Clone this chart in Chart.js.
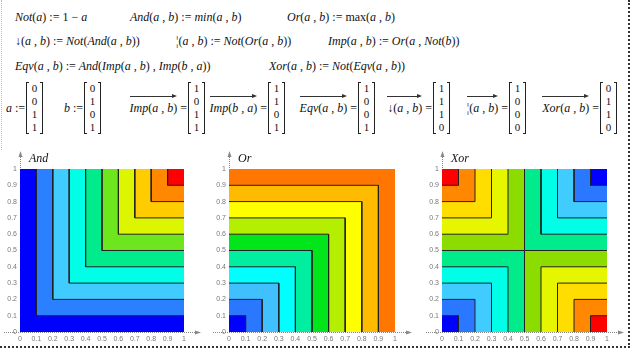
<!DOCTYPE html>
<html>
<head>
<meta charset="utf-8">
<script src="https://cdn.jsdelivr.net/npm/chart.js@4"></script>
<style>
  body { margin: 0; width: 633px; height: 352px; position: relative; background: #fff; overflow: hidden; }
  .frame { position: absolute; left: 0; top: 0; width: 628px; height: 346px; border-right: 2px dotted #333; border-bottom: 2px dotted #333; }
  .edge { position: absolute; left: 1px; top: 0; height: 150px; border-left: 1px dotted #bbb; }
  .f { position: absolute; font: 12px "Liberation Serif", serif; color: #111; white-space: nowrap; line-height: 14px; }
  .lbl { position: absolute; top: 101px; font: 12px "Liberation Serif", serif; color: #111; white-space: nowrap; line-height: 14px; }
  .vec { position: relative; display: inline-block; }
  .vec::before { content: ''; position: absolute; left: 0; right: 2px; top: -5px; border-top: 1px solid #333; }
  .vec::after { content: ''; position: absolute; right: 0; top: -7px; border-left: 5px solid #333; border-top: 2.5px solid transparent; border-bottom: 2.5px solid transparent; }
  .mat { position: absolute; top: 82px; height: 52px; width: 17px; font: 11px "Liberation Serif", serif; color: #111; text-align: center; }
  .mat span { display: block; height: 13px; line-height: 13px; }
  .mat::before, .mat::after { content: ''; position: absolute; top: 0; bottom: 0; width: 2px; border: 1px solid #222; }
  .mat::before { left: 0; border-right: none; }
  .mat::after { right: 0; border-left: none; }
  .c { position: absolute; top: 145px; height: 205px; }
</style>
</head>
<body>
<div class="frame"></div>
<div class="edge"></div>

<div class="f" style="left:15px;top:10px"><i>Not</i>(<i>a</i>) := 1 − <i>a</i></div>
<div class="f" style="left:130px;top:10px"><i>And</i>(<i>a</i> , <i>b</i>) := <i>min</i>(<i>a</i> , <i>b</i>)</div>
<div class="f" style="left:287px;top:10px"><i>Or</i>(<i>a</i> , <i>b</i>) := max(<i>a</i> , <i>b</i>)</div>

<div class="f" style="left:15px;top:34px">↓(<i>a</i> , <i>b</i>) := <i>Not</i>(<i>And</i>(<i>a</i> , <i>b</i>))</div>
<div class="f" style="left:176px;top:34px">¦(<i>a</i> , <i>b</i>) := <i>Not</i>(<i>Or</i>(<i>a</i> , <i>b</i>))</div>
<div class="f" style="left:328px;top:34px"><i>Imp</i>(<i>a</i> , <i>b</i>) := <i>Or</i>(<i>a</i> , <i>Not</i>(<i>b</i>))</div>

<div class="f" style="left:15px;top:59px"><i>Eqv</i>(<i>a</i> , <i>b</i>) := <i>And</i>(<i>Imp</i>(<i>a</i> , <i>b</i>) , <i>Imp</i>(<i>b</i> , <i>a</i>))</div>
<div class="f" style="left:269px;top:59px"><i>Xor</i>(<i>a</i> , <i>b</i>) := <i>Not</i>(<i>Eqv</i>(<i>a</i> , <i>b</i>))</div>

<div id="vectors"></div>

<div class="c" style="left:0;width:215px"><canvas id="c1"></canvas></div>
<div class="c" style="left:210px;width:215px"><canvas id="c2"></canvas></div>
<div class="c" style="left:422px;width:208px"><canvas id="c3"></canvas></div>

<script>
// truth tables shown in the vector row
const a = [0, 0, 1, 1];
const b = [0, 1, 0, 1];
const impAB = [1, 0, 1, 1];
const impBA = [1, 1, 0, 1];
const eqvAB = [1, 0, 0, 1];
const nandAB = [1, 1, 1, 0];
const norAB = [1, 0, 0, 0];
const xorAB = [0, 1, 1, 0];

// contour plots
const tickLabels = ['0', '0.1', '0.2', '0.3', '0.4', '0.5', '0.6', '0.7', '0.8', '0.9', '1'];
const levels = [0.1, 0.2, 0.3, 0.4, 0.5, 0.6, 0.7, 0.8, 0.9];
const andColors = ['#0000ff', '#2a80ff', '#40ccff', '#00ffe6', '#00ec8c', '#6ee61e', '#dcf500', '#ffcc00', '#ff8800', '#ff0000'];
const orColors = ['#0000ff', '#2a78ff', '#40c0ff', '#00ffff', '#00eea0', '#00e61a', '#b4ee00', '#ffff00', '#ffbb00', '#ff7700'];
const xorColors = ['#0000ff', '#2a78ff', '#40ccff', '#00ffe6', '#00ec8c', '#8cdc00', '#e6f500', '#ffdd00', '#ff8800', '#ff0000'];

// vector row
const mat = (vals, x) => `<div class="mat" style="left:${x}px">${vals.map(v => `<span>${v}</span>`).join('')}</div>`;
const lbl = (html, x) => `<div class="lbl" style="right:${633 - x + 1}px">${html}</div>`;
const ab = '(<i>a</i> , <i>b</i>)';
const ba = '(<i>b</i> , <i>a</i>)';
document.getElementById('vectors').innerHTML =
  lbl('<i>a</i> :=', 26) + mat(a, 26) +
  lbl('<i>b</i> :=', 84) + mat(b, 84) +
  lbl(`<span class="vec"><i>Imp</i>${ab}</span> =`, 188) + mat(impAB, 188) +
  lbl(`<span class="vec"><i>Imp</i>${ba}</span> =`, 268) + mat(impBA, 268) +
  lbl(`<span class="vec"><i>Eqv</i>${ab}</span> =`, 358) + mat(eqvAB, 358) +
  lbl(`<span class="vec">↓${ab}</span> =`, 433) + mat(nandAB, 433) +
  lbl(`<span class="vec">¦${ab}</span> =`, 509) + mat(norAB, 509) +
  lbl(`<span class="vec"><i>Xor</i>${ab}</span> =`, 600) + mat(xorAB, 600);

// a filled rectangle = top edge line filled down to y0
const rect = (x0, x1, y0, y1, color, order) => ({
  data: [{x: x0, y: y1}, {x: x1, y: y1}],
  fill: {value: y0},
  backgroundColor: color,
  borderWidth: 0,
  pointRadius: 0,
  order: order
});
const contour = (pts) => ({
  data: pts.map(p => ({x: p[0], y: p[1]})),
  fill: false,
  borderColor: '#222',
  borderWidth: 1,
  borderJoinStyle: 'round',
  pointRadius: 0,
  order: 0
});

// And(a,b) = min(a,b): region above level c is the square [c,1]x[c,1]
function andSets() {
  const ds = [rect(0, 1, 0, 1, andColors[0], 100)];
  levels.forEach((c, i) => {
    ds.push(rect(c, 1, c, 1, andColors[i + 1], 99 - i));
    ds.push(contour([[c, 1], [c, c], [1, c]]));
  });
  return ds;
}
// Or(a,b) = max(a,b): region below level c is the square [0,c]x[0,c]
function orSets() {
  const ds = [rect(0, 1, 0, 1, orColors[orColors.length - 1], 100)];
  levels.slice().reverse().forEach((c, i) => {
    const k = levels.indexOf(c);
    ds.push(rect(0, c, 0, c, orColors[k], 99 - i));
    ds.push(contour([[0, c], [c, c], [c, 0]]));
  });
  return ds;
}
// Xor(a,b) = max(min(a,1-b), min(b,1-a)): union of two squares above level c
function xorSets() {
  const ds = [rect(0, 1, 0, 1, xorColors[0], 100)];
  levels.forEach((c, i) => {
    ds.push(rect(c, 1, 0, 1 - c, xorColors[i + 1], 99 - i));
    ds.push(rect(0, 1 - c, c, 1, xorColors[i + 1], 99 - i));
    if (c < 0.5) {
      ds.push(contour([[c, 0], [c, c], [0, c]]));
      ds.push(contour([[1 - c, 1], [1 - c, 1 - c], [1, 1 - c]]));
    } else {
      ds.push(contour([[c, 0], [c, 1 - c], [1, 1 - c]]));
      ds.push(contour([[0, c], [1 - c, c], [1 - c, 1]]));
    }
  });
  return ds;
}

// dotted axes with arrows, plus the italic plot name
const mathcadAxes = {
  id: 'mathcadAxes',
  beforeDatasetsDraw(chart) {
    const {ctx, chartArea: {left, right, top, bottom}} = chart;
    ctx.save();
    ctx.strokeStyle = '#888';
    ctx.fillStyle = '#888';
    ctx.lineWidth = 1;
    ctx.setLineDash([1, 1]);
    ctx.beginPath();
    ctx.moveTo(left + 0.5, bottom);
    ctx.lineTo(left + 0.5, top - 13);
    ctx.moveTo(left - 16, bottom + 0.5);
    ctx.lineTo(right + 12, bottom + 0.5);
    ctx.stroke();
    ctx.setLineDash([]);
    ctx.beginPath();
    ctx.moveTo(left + 0.5, top - 18);
    ctx.lineTo(left - 1.5, top - 12);
    ctx.lineTo(left + 2.5, top - 12);
    ctx.fill();
    ctx.beginPath();
    ctx.moveTo(right + 17, bottom + 0.5);
    ctx.lineTo(right + 11, bottom - 1.5);
    ctx.lineTo(right + 11, bottom + 2.5);
    ctx.fill();
    ctx.restore();
  },
  afterDraw(chart, args, opts) {
    const {ctx, chartArea: {left, top}} = chart;
    ctx.save();
    ctx.font = 'italic 12px "Liberation Serif"';
    ctx.fillStyle = '#111';
    ctx.fillText(opts.name, left + 9, top - 7);
    ctx.restore();
  }
};

function makeChart(id, name, datasets, yWidth, padRight) {
  const axis = {
    type: 'linear',
    min: 0,
    max: 1,
    grid: {display: false, drawTicks: false},
    border: {display: false},
    ticks: {
      stepSize: 0.1,
      autoSkip: false,
      maxRotation: 0,
      padding: 3,
      color: '#777',
      font: {family: 'Liberation Sans', size: 7},
      callback: (v, i) => tickLabels[i]
    }
  };
  new Chart(document.getElementById(id), {
    type: 'line',
    data: {datasets: datasets},
    options: {
      responsive: true,
      maintainAspectRatio: false,
      animation: false,
      devicePixelRatio: 1,
      layout: {padding: {left: 0, right: padRight, top: 24, bottom: 5}},
      scales: {
        x: Object.assign({}, axis, {afterFit: s => { s.height = 13; }}),
        y: Object.assign({}, axis, {afterFit: s => { s.width = yWidth; }})
      },
      plugins: {
        legend: {display: false},
        tooltip: {enabled: false},
        mathcadAxes: {name: name}
      }
    },
    plugins: [mathcadAxes]
  });
}

makeChart('c1', 'And', andSets(), 20, 31);
makeChart('c2', 'Or', orSets(), 19, 30);
makeChart('c3', 'Xor', xorSets(), 20, 23);
</script>
</body>
</html>
